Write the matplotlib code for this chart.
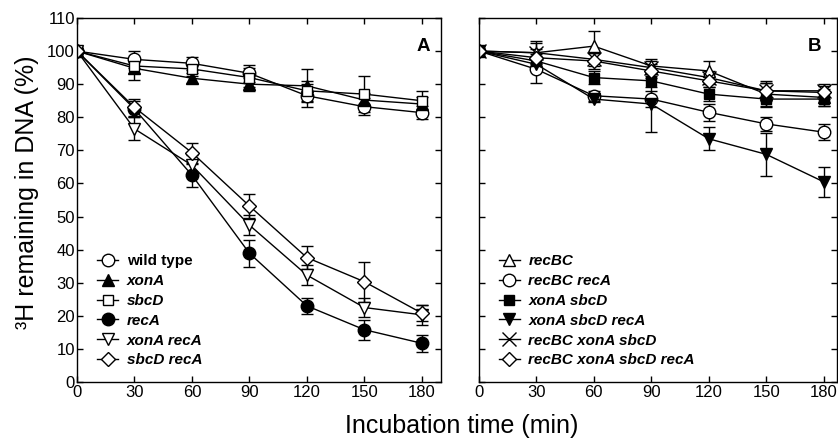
"""
 DNA degradation time course, panels A and B
"""
import matplotlib
matplotlib.use('Agg')
import matplotlib.pyplot as plt

plt.rcParams['font.family'] = ['Liberation Sans', 'DejaVu Sans']

time = [0, 30, 60, 90, 120, 150, 180]

# panel A
a_labels = ['wild type', 'xonA', 'sbcD', 'recA', 'xonA recA', 'sbcD recA']
wt = [100, 97.5, 96.3, 93.3, 86.5, 83.2, 81.4]
wt_err = [0, 2.5, 2, 2.5, 3.5, 2.5, 2]
xona = [100, 94.8, 91.8, 90, 89.5, 85.2, 84]
xona_err = [0, 3.5, 1.5, 2, 5, 2, 2]
sbcd = [100, 95.5, 94.6, 92, 88, 87, 85]
sbcd_err = [0, 2, 2, 3, 3, 5.5, 3]
reca = [100, 82.5, 62.5, 38.9, 23, 15.8, 11.7]
reca_err = [0, 2.5, 3.5, 4, 2.5, 3, 2.5]
xona_reca = [100, 76.5, 65.5, 47.4, 32.3, 22.5, 20.3]
xona_reca_err = [0, 3.5, 3, 3, 3, 3, 3]
sbcd_reca = [100, 83, 69.3, 53.2, 37.6, 30.3, 20.8]
sbcd_reca_err = [0, 2.5, 3, 3.5, 3.5, 6, 2.5]

# panel B
b_labels = ['recBC', 'recBC recA', 'xonA sbcD', 'xonA sbcD recA',
            'recBC xonA sbcD', 'recBC xonA sbcD recA']
recbc = [100, 99.5, 101.5, 95.5, 94, 87, 86]
recbc_err = [0, 3, 4.5, 2, 3, 3.5, 2.5]
recbc_reca = [100, 94.5, 86.5, 85.5, 81.5, 78, 75.5]
recbc_reca_err = [0, 4, 1.5, 2.5, 2.5, 2, 2.5]
xona_sbcd = [100, 97, 92, 91, 87, 85.5, 85.5]
xona_sbcd_err = [0, 2, 2, 2, 2, 2.5, 2]
xona_sbcd_reca = [100, 96, 85.5, 84, 73.5, 68.8, 60.5]
xona_sbcd_reca_err = [0, 2, 1, 8.5, 3.5, 6.5, 4.5]
recbc_xona_sbcd = [100, 99.5, 97.5, 95, 92, 88, 88]
recbc_xona_sbcd_err = [0, 3.5, 2, 2, 2, 3, 2]
recbc_all = [100, 98, 97, 94, 91, 88, 87.5]
recbc_all_err = [0, 2.5, 2.5, 2, 2, 2.5, 2]

a_series = [(wt, wt_err, 'o', 'white'), (xona, xona_err, '^', 'black'),
            (sbcd, sbcd_err, 's', 'white'), (reca, reca_err, 'o', 'black'),
            (xona_reca, xona_reca_err, 'v', 'white'),
            (sbcd_reca, sbcd_reca_err, 'D', 'white')]
b_series = [(recbc, recbc_err, '^', 'white'),
            (recbc_reca, recbc_reca_err, 'o', 'white'),
            (xona_sbcd, xona_sbcd_err, 's', 'black'),
            (xona_sbcd_reca, xona_sbcd_reca_err, 'v', 'black'),
            (recbc_xona_sbcd, recbc_xona_sbcd_err, 'x', 'black'),
            (recbc_all, recbc_all_err, 'D', 'white')]

fig = plt.figure(figsize=(8.38, 4.40), dpi=100)
ax_a = fig.add_axes([77 / 838, 58 / 440, 364 / 838, 364 / 440])
ax_b = fig.add_axes([479 / 838, 58 / 440, 358 / 838, 364 / 440])


def draw_panel(ax, series, labels, xmax):
    """draws one panel"""
    handles = []
    for (vals, errs, mk, fc), lab in zip(series, labels):
        ms = {'D': 7.5, 's': 7.5, 'x': 9.5}.get(mk, 9)
        h = ax.errorbar(time, vals, yerr=errs, color='black', lw=1,
                        marker=mk, ms=ms, mfc=fc, mec='black', mew=1,
                        capsize=4.5, capthick=1, elinewidth=1, label=lab)
        handles.append(h[0])
    ax.set_xlim(0, xmax)
    ax.set_ylim(0, 110)
    ax.set_xticks(time)
    ax.set_yticks(range(0, 111, 10))
    ax.tick_params(direction='in', top=True, right=True, labelsize=12,
                   length=4, width=1, pad=1.5)
    ax.tick_params(axis='x', pad=2.5)
    for sp in ax.spines.values():
        sp.set_linewidth(1)
    leg = ax.legend(handles, labels, loc='lower left', frameon=False,
                    bbox_to_anchor=(0.055, 0.04), borderaxespad=0,
                    borderpad=0, handlelength=1.4, handletextpad=0.55,
                    labelspacing=0.38, numpoints=1,
                    prop={'size': 11, 'weight': 'bold', 'style': 'italic'})
    return leg


leg_a = draw_panel(ax_a, a_series, a_labels, 190)
leg_a.get_texts()[0].set_style('normal')
draw_panel(ax_b, b_series, b_labels, 187)
ax_b.set_yticklabels([])

ax_a.text(0.97, 0.945, 'A', transform=ax_a.transAxes, ha='right', va='top',
          fontsize=13.5, fontweight='bold')
ax_b.text(0.955, 0.945, 'B', transform=ax_b.transAxes, ha='right', va='top',
          fontsize=13.5, fontweight='bold')

fig.text(462 / 838, 1 - 426 / 440, 'Incubation time (min)', ha='center',
         va='center', fontsize=18)
fig.text(27 / 838, 1 - 192 / 440, '³H remaining in DNA (%)', ha='center',
         va='center', rotation=90, fontsize=18)

fig.savefig('out.png', dpi=100)
